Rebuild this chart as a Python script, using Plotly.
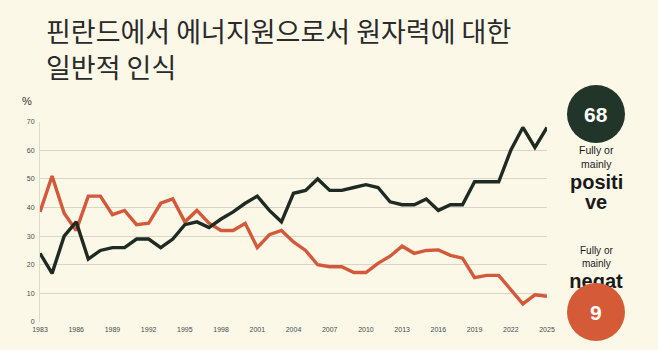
import plotly.graph_objects as go

years = [1983, 1984, 1985, 1986, 1987, 1988, 1989, 1990, 1991, 1992, 1993, 1994, 1995,
         1996, 1997, 1998, 1999, 2000, 2001, 2002, 2003, 2004, 2005, 2006, 2007, 2008,
         2009, 2010, 2011, 2012, 2013, 2014, 2015, 2016, 2017, 2018, 2019, 2020, 2021,
         2022, 2023, 2024, 2025]
positive = [24, 17, 30, 35, 22, 25, 26, 26, 29, 29, 26, 29, 34, 35, 33, 36, 38.5, 41.5,
            44, 39, 35, 45, 46, 50, 46, 46, 47, 48, 47, 42, 41, 41, 43, 39, 41, 41, 49,
            49, 49, 60, 68, 61, 68]
negative = [38.5, 51, 38, 32, 44, 44, 37.5, 39, 34, 34.5, 41.5, 43, 35, 39, 34.5, 32, 32,
            34.5, 26, 30.5, 32, 28, 25, 20, 19.3, 19.3, 17.3, 17.3, 20.5, 23, 26.5, 24, 25,
            25.2, 23.3, 22.3, 15.5, 16.3, 16.3, 11.5, 6.3, 9.5, 9]
x_ticks = [1983, 1986, 1989, 1992, 1995, 1998, 2001, 2004, 2007, 2010, 2013, 2016, 2019, 2022, 2025]
y_ticks = [0, 10, 20, 30, 40, 50, 60, 70]

title_1 = "핀란드에서 에너지원으로서 원자력에 대한"
title_2 = "일반적 인식"
pos_value = positive[-1]
neg_value = negative[-1]

W, H = 658, 350
BG = "#fbf8e8"
DARK = "#1f2b22"
RED = "#d4583a"
CIRCLE_DARK = "#213528"
CIRCLE_RED = "#d55a37"

fig = go.Figure()
fig.add_trace(go.Scatter(x=years, y=negative, mode="lines",
                         line=dict(color=RED, width=3.4, shape="linear"),
                         hoverinfo="skip", showlegend=False))
fig.add_trace(go.Scatter(x=years, y=positive, mode="lines",
                         line=dict(color=DARK, width=3.4, shape="linear"),
                         hoverinfo="skip", showlegend=False))

# overlay (pixel) axes for the label that sits under the red circle
fig.add_trace(go.Scatter(x=[596], y=[283], mode="text", text=["<b>negat</b>"],
                         textfont=dict(family="Liberation Sans", size=20, color="#1a1a1a"),
                         textposition="middle center", cliponaxis=False,
                         xaxis="x2", yaxis="y2", hoverinfo="skip", showlegend=False))

L, R, T, B = 40, 547, 121.7, 322
tickfont = dict(family="Liberation Sans", size=7, color="#4a4a4a")
fig.update_layout(
    width=W, height=H, margin=dict(l=0, r=0, t=0, b=0, autoexpand=False),
    paper_bgcolor=BG, plot_bgcolor="rgba(0,0,0,0)",
    xaxis=dict(domain=[L / W, R / W], range=[1983, 2025], tickvals=x_ticks,
               ticktext=[str(v) for v in x_ticks], showgrid=False, zeroline=False,
               showline=False, ticks="", automargin=False, ticklabelstandoff=2,
               tickfont=tickfont),
    yaxis=dict(domain=[(H - B) / H, (H - T) / H], range=[0, 70], tickvals=y_ticks,
               showgrid=True, gridcolor="#d9d6c9", gridwidth=1, zeroline=False,
               showline=True, linecolor="#dedbcd", linewidth=1, ticks="",
               automargin=False, ticklabelstandoff=3, tickfont=tickfont),
    xaxis2=dict(domain=[0, 1], range=[0, W], anchor="y2", visible=False, fixedrange=True),
    yaxis2=dict(domain=[0, 1], range=[H, 0], anchor="x2", visible=False, fixedrange=True),
)

shapes = [
    dict(type="circle", xref="x2", yref="y2", x0=567, x1=625, y0=85, y1=143,
         fillcolor=CIRCLE_DARK, line=dict(width=0), layer="above"),
    dict(type="circle", xref="x2", yref="y2", x0=567, x1=625, y0=283, y1=341,
         fillcolor=CIRCLE_RED, line=dict(width=0), layer="above"),
]
fig.update_layout(shapes=shapes)

def ann(x, y, text, size, color="#1a1a1a", family="Liberation Sans", xanchor="center"):
    return dict(x=x, y=y, xref="x2", yref="y2", text=text, showarrow=False,
                xanchor=xanchor, yanchor="middle", borderpad=0,
                font=dict(family=family, size=size, color=color))

annotations = [
    ann(45, 30, title_1, 27, color="#2a2a2a", family="Noto Sans CJK KR", xanchor="left"),
    ann(45, 66, title_2, 27, color="#2a2a2a", family="Noto Sans CJK KR", xanchor="left"),
    ann(27, 101, "%", 11, color="#333333"),
    ann(596, 114, f"<b>{pos_value}</b>", 21, color="#ffffff"),
    ann(596, 312, f"<b>{neg_value:g}</b>", 21, color="#ffffff"),
    ann(596, 157, "Fully or<br>mainly", 10.5),
    ann(596, 182, "<b>positi</b>", 20),
    ann(596, 202, "<b>ve</b>", 20),
    ann(596, 257, "Fully or<br>mainly", 10),
]
fig.update_layout(annotations=annotations)

fig.write_html("out.html")
